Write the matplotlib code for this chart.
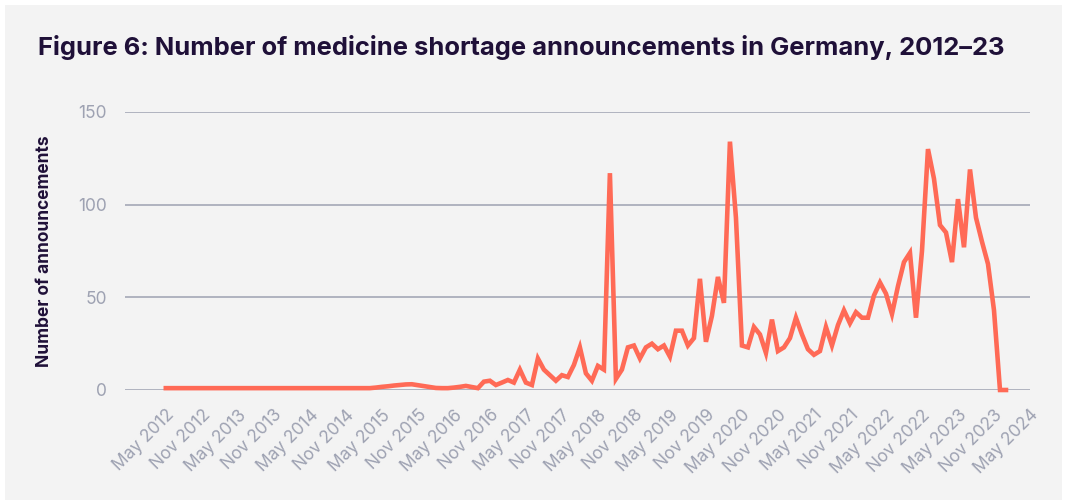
import numpy as np
import matplotlib
matplotlib.use("Agg")
from matplotlib import pyplot as plt
from matplotlib.patches import Rectangle

# monthly announcements, May 2012 .. Jan 2024
flat_start = [1] * 35
values = flat_start + [
    1.3, 1.7, 2.0, 2.4, 2.7, 3.0, 3.1, 2.6, 2.1, 1.6,   # m35-44
    1.1, 1, 1, 1.3, 1.7, 2.2, 1.6, 1, 4.5, 5,           # m45-54
    2.7, 4, 5.4, 4, 11, 4, 2.7, 17, 11, 8,              # m55-64
    5, 8, 7, 13.5, 23, 9, 5, 13, 11, 117,               # m65-74
    6, 11, 23, 24, 17, 23, 25, 22, 24, 18,              # m75-84
    32, 32, 24, 28, 60, 26, 40, 61, 47, 134,            # m85-94
    93, 24, 23, 34, 30, 20, 38, 21, 23, 28,             # m95-104
    39, 30, 22, 19, 21, 34, 24, 35, 43, 36,             # m105-114
    42, 39, 39, 51, 58, 52, 41, 56, 69, 74,             # m115-124
    39, 75, 130, 114, 89, 85, 69, 103, 77, 119,         # m125-134
    93, 80, 68, 43, 0, 0,                               # m135-140
]
months = np.arange(len(values))

tick_pos = np.arange(0, 145, 6)
tick_labels = []
for i, m in enumerate(tick_pos):
    year = 2012 + (m + 4) // 12
    tick_labels.append(("May " if i % 2 == 0 else "Nov ") + str(year))

bg = "#f3f3f3"
dark = "#1f1038"
grey_text = "#9ea2b2"
grid_col = "#a4a8b6"
line_col = "#ff6a56"

fig = plt.figure(figsize=(10.67, 5.0), dpi=100)
fig.patch.set_facecolor("white")
fig.add_artist(Rectangle((5 / 1067, 0), 1057 / 1067, 495 / 500,
                         transform=fig.transFigure, facecolor=bg,
                         edgecolor="none", zorder=-10))

ax = fig.add_axes([125 / 1067, 1 - 390 / 500, 905 / 1067, 278 / 500])
ax.set_facecolor("none")
ax.plot(months, values, color=line_col, lw=3.3, clip_on=False,
        solid_joinstyle="miter", zorder=3)

ax.set_xlim(-6.8, 144.0)
ax.set_ylim(0, 150)
ax.set_yticks([0, 50, 100, 150])
ax.yaxis.grid(True, color=grid_col, lw=1.2)
ax.set_axisbelow(True)
for s in ax.spines.values():
    s.set_visible(False)
ax.tick_params(axis="both", length=0, labelsize=12.5, labelcolor=grey_text)
ax.tick_params(axis="y", pad=13)
ax.set_xticks(tick_pos)
ax.set_xticklabels(tick_labels, rotation=45, ha="right",
                   rotation_mode="anchor")
ax.tick_params(axis="x", pad=12)
for lab in ax.get_xticklabels() + ax.get_yticklabels():
    lab.set_family("Inter")

ax.set_ylabel("Number of announcements", fontsize=12.5, fontweight="bold",
              color=dark, family="Inter", labelpad=18)

fig.text(38 / 1067, 1 - 47 / 500,
         "Figure 6: Number of medicine shortage announcements in Germany, 2012\u201323",
         fontsize=18.4, fontweight="bold", color=dark, family="Inter",
         ha="left", va="center")

fig.savefig("out.png", dpi=100, facecolor=fig.get_facecolor())
